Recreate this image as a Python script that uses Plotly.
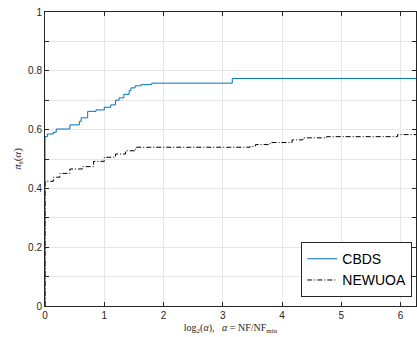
import plotly.graph_objects as go

# log2(alpha) breakpoints and profile values
cbds_x = [0, 0, 0.04, 0.14, 0.19, 0.42, 0.58, 0.61, 0.72, 0.86, 1.00, 1.11, 1.19, 1.25, 1.33, 1.42, 1.45, 1.52, 1.62, 1.80, 3.16, 6.26]
cbds_y = [0, 0.576, 0.585, 0.591, 0.602, 0.616, 0.628, 0.640, 0.662, 0.667, 0.676, 0.684, 0.700, 0.708, 0.720, 0.733, 0.742, 0.749, 0.753, 0.758, 0.774, 0.774]

newuoa_x = [0, 0, 0.14, 0.25, 0.42, 0.63, 0.82, 1.00, 1.19, 1.36, 1.53, 3.46, 3.55, 3.80, 4.17, 4.35, 4.75, 5.95, 6.26]
newuoa_y = [0, 0.424, 0.438, 0.451, 0.466, 0.474, 0.492, 0.506, 0.517, 0.528, 0.540, 0.543, 0.549, 0.556, 0.565, 0.572, 0.576, 0.583, 0.583]

x_ticks = [0, 1, 2, 3, 4, 5, 6]
y_ticks = [0, 0.2, 0.4, 0.6, 0.8, 1]
y_tick_labels = ["0", "0.2", "0.4", "0.6", "0.8", "1"]

fig = go.Figure()
fig.add_trace(go.Scatter(x=cbds_x, y=cbds_y, mode="lines", name="CBDS",
                         line=dict(color="#0072BD", width=1, shape="hv")))
fig.add_trace(go.Scatter(x=newuoa_x, y=newuoa_y, mode="lines", name="NEWUOA",
                         line=dict(color="black", width=1, shape="hv", dash="5px,2px,1px,2px")))

axis_common = dict(showline=True, linecolor="#262626", linewidth=1, mirror="ticks",
                   ticks="inside", ticklen=4, tickcolor="#262626",
                   gridcolor="#e6e6e6", gridwidth=1, zeroline=False,
                   tickfont=dict(family="Liberation Sans, Arial", size=10, color="#262626"))

fig.update_layout(
    width=417, height=337,
    margin=dict(l=45, r=1, t=12, b=31),
    paper_bgcolor="white", plot_bgcolor="white",
    xaxis=dict(range=[0, 6.26], tickvals=x_ticks, **axis_common,
               title=dict(text="log<sub>2</sub>(<i>α</i>),   <i>α</i> = NF/NF<sub>min</sub>",
                          font=dict(family="Liberation Serif, DejaVu Serif", size=10, color="#262626"),
                          standoff=3)),
    yaxis=dict(range=[0, 1], tickvals=y_ticks, ticktext=y_tick_labels, **axis_common,
               minor=dict(dtick=0.1, ticks="inside", ticklen=4, tickcolor="#262626",
                          showgrid=True, gridcolor="#e6e6e6"),
               title=dict(text="<i>π</i><sub>s</sub>(<i>α</i>)",
                          font=dict(family="Liberation Serif, DejaVu Serif", size=11, color="#262626"),
                          standoff=4)),
    legend=dict(x=0.99, y=0.03, xanchor="right", yanchor="bottom",
                bgcolor="white", bordercolor="#262626", borderwidth=1,
                font=dict(family="Liberation Sans, Arial", size=14, color="black"),
                itemwidth=30, tracegroupgap=0),
    showlegend=True,
)

fig.write_html("out.html", config={"displayModeBar": False},
               post_script="document.body.style.margin='0';document.body.style.overflow='hidden';")
